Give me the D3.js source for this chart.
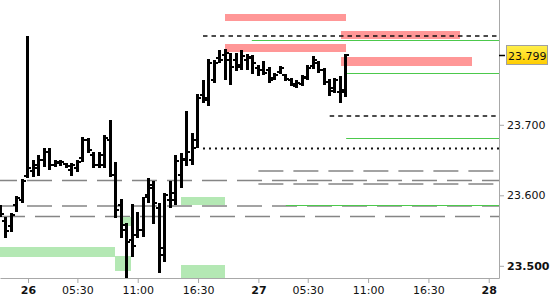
<!DOCTYPE html>
<html>
<head>
<meta charset="utf-8">
<script src="https://cdn.jsdelivr.net/npm/d3@7"></script>
<style>
body { margin: 0; background: #fff; }
svg text { font-family: "DejaVu Sans", sans-serif; font-size: 11px; fill: #111; }
</style>
</head>
<body>
<div id="chart"></div>
<script>
// 30 minute bars, indexed from the left edge
var opens  = [23.582,23.564,23.557,23.586,23.593,23.627,23.635,23.639,23.650,23.661,23.643,23.646,23.644,23.636,23.639,23.653,
              23.678,23.657,23.643,23.643,23.678,23.629,23.586,23.551,23.537,23.544,23.551,23.600,23.615,23.582,23.515,23.593,
              23.593,23.629,23.650,23.650,23.678,23.742,23.735,23.764,23.795,23.799,23.792,23.792,23.785,23.792,23.795,23.781,
              23.778,23.778,23.766,23.775,23.771,23.764,23.755,23.758,23.766,23.783,23.788,23.778,23.761,23.752,23.747,23.747];
var highs  = [23.586,23.569,23.575,23.599,23.623,23.826,23.650,23.657,23.667,23.667,23.650,23.650,23.646,23.646,23.650,23.683,
              23.681,23.661,23.661,23.686,23.707,23.647,23.595,23.561,23.588,23.576,23.598,23.625,23.620,23.589,23.603,23.620,
              23.657,23.660,23.720,23.688,23.744,23.764,23.793,23.792,23.806,23.808,23.802,23.802,23.806,23.800,23.799,23.785,
              23.791,23.782,23.774,23.783,23.772,23.766,23.764,23.771,23.785,23.798,23.791,23.781,23.765,23.766,23.769,23.800];
var lows   = [23.569,23.539,23.548,23.576,23.589,23.625,23.626,23.627,23.640,23.636,23.640,23.642,23.639,23.627,23.633,23.647,
              23.660,23.639,23.639,23.639,23.626,23.568,23.539,23.483,23.513,23.539,23.541,23.589,23.559,23.490,23.505,23.582,
              23.586,23.610,23.642,23.643,23.667,23.731,23.727,23.759,23.788,23.764,23.757,23.776,23.778,23.778,23.772,23.769,
              23.771,23.759,23.764,23.772,23.762,23.755,23.752,23.755,23.764,23.779,23.774,23.757,23.741,23.745,23.731,23.739];
var closes = [23.574,23.549,23.572,23.596,23.620,23.639,23.643,23.650,23.661,23.643,23.647,23.647,23.642,23.643,23.647,23.678,
              23.664,23.643,23.657,23.681,23.629,23.579,23.558,23.534,23.528,23.551,23.598,23.610,23.589,23.525,23.600,23.603,
              23.649,23.652,23.661,23.667,23.738,23.738,23.788,23.788,23.792,23.802,23.782,23.782,23.798,23.796,23.788,23.778,
              23.774,23.764,23.771,23.781,23.765,23.758,23.759,23.768,23.781,23.792,23.778,23.761,23.748,23.764,23.749,23.799];

var xTickIdx    = [5, 14, 25, 36, 47, 56, 67, 78, 89];
var xTickLabels = ["26", "05:30", "11:00", "16:30", "27", "05:30", "11:00", "16:30", "28"];
var dayLabels   = ["26", "27", "28"];
var yTicks      = [23.5, 23.6, 23.7];
var lastPrice   = 23.799;

// horizontal levels: [start bar index, price], they run to the right edge
var grayLevels  = [[-1.57, 23.621], [-1.57, 23.5848], [-0.11, 23.5699], [47, 23.6345], [47, 23.616]];
var greenLevels = [[45.8, 23.8203], [63, 23.7735], [63, 23.6813], [52, 23.5862]];
var dashLevels  = [[36.9, 23.826], [60, 23.7125]];
var dotLevels   = [[36.9, 23.6664]];

// zones: [from index, to index, top price, bottom price]
var redZones   = [[40.91, 62.97, 23.8572, 23.8472], [40.91, 62.97, 23.8146, 23.8033],
                  [62.06, 83.76, 23.8331, 23.8217], [62.06, 85.94, 23.7962, 23.7834]];
var greenZones = [[-0.5, 20.86, 23.5267, 23.5125], [20.86, 23.77, 23.5139, 23.4926],
                  [21.8, 23.77, 23.5692, 23.5565], [32.89, 40.91, 23.5976, 23.5862],
                  [32.89, 40.91, 23.5012, 23.4813]];

var W = 550, H = 300, plotW = 499, plotH = 278;

var svg = d3.select("#chart").append("svg")
  .attr("width", W).attr("height", H);

var x = d3.scaleLinear().domain([-0.11, 90.87]).range([0, plotW]);
var y = d3.scaleLinear().domain([23.4827, 23.877]).range([plotH, 0]);

svg.append("clipPath").attr("id", "plotclip")
  .append("rect").attr("x", 0).attr("y", 0).attr("width", plotW).attr("height", plotH + 1);

var plot = svg.append("g").attr("clip-path", "url(#plotclip)");

// gray long dash levels
plot.selectAll(".gray").data(grayLevels).enter().append("line")
  .attr("x1", function(d) { return x(d[0]); })
  .attr("x2", plotW)
  .attr("y1", function(d) { return y(d[1]); })
  .attr("y2", function(d) { return y(d[1]); })
  .attr("stroke", "#858585").attr("stroke-width", 1.4)
  .attr("stroke-dasharray", "25,10");

// zones
plot.selectAll(".gz").data(greenZones).enter().append("rect")
  .attr("x", function(d) { return x(d[0]); })
  .attr("width", function(d) { return x(d[1]) - x(d[0]); })
  .attr("y", function(d) { return y(d[2]); })
  .attr("height", function(d) { return y(d[3]) - y(d[2]); })
  .attr("fill", "#b4e8b4").attr("shape-rendering", "crispEdges");

plot.selectAll(".rz").data(redZones).enter().append("rect")
  .attr("x", function(d) { return x(d[0]); })
  .attr("width", function(d) { return x(d[1]) - x(d[0]); })
  .attr("y", function(d) { return y(d[2]); })
  .attr("height", function(d) { return y(d[3]) - y(d[2]); })
  .attr("fill", "#ff9797").attr("shape-rendering", "crispEdges");

plot.selectAll(".gl").data(greenLevels).enter().append("line")
  .attr("x1", function(d) { return x(d[0]); })
  .attr("x2", plotW)
  .attr("y1", function(d) { return Math.round(y(d[1])) + 0.5; })
  .attr("y2", function(d) { return Math.round(y(d[1])) + 0.5; })
  .attr("stroke", "#4cc94c").attr("stroke-width", 1.2);

plot.selectAll(".dl").data(dashLevels).enter().append("line")
  .attr("x1", function(d) { return x(d[0]); })
  .attr("x2", plotW)
  .attr("y1", function(d) { return y(d[1]); })
  .attr("y2", function(d) { return y(d[1]); })
  .attr("stroke", "#111").attr("stroke-width", 1.4)
  .attr("stroke-dasharray", "4.5,4");

plot.selectAll(".dot").data(dotLevels).enter().append("line")
  .attr("x1", function(d) { return x(d[0]); })
  .attr("x2", plotW)
  .attr("y1", function(d) { return y(d[1]); })
  .attr("y2", function(d) { return y(d[1]); })
  .attr("stroke", "#111").attr("stroke-width", 2)
  .attr("stroke-dasharray", "2,4");

// OHLC bars
var bars = plot.selectAll(".bar").data(d3.range(opens.length)).enter().append("g")
  .attr("shape-rendering", "crispEdges");
function cx(i) { return Math.round(x(i) - 0.7); }
bars.append("rect")
  .attr("x", function(i) { return cx(i) - 1; })
  .attr("width", 3)
  .attr("y", function(i) { return y(highs[i]); })
  .attr("height", function(i) { return Math.max(2, y(lows[i]) - y(highs[i])); })
  .attr("fill", "#000");
bars.append("rect")
  .attr("x", function(i) { return cx(i) - 3; })
  .attr("width", 2)
  .attr("y", function(i) { return y(opens[i]) - 1; })
  .attr("height", 2)
  .attr("fill", "#000");
bars.append("rect")
  .attr("x", function(i) { return cx(i) + 2; })
  .attr("width", 2)
  .attr("y", function(i) { return y(closes[i]) - 1; })
  .attr("height", 2)
  .attr("fill", "#000");

// axes
var xAxis = svg.append("g")
  .attr("transform", "translate(0," + plotH + ")")
  .call(d3.axisBottom(x).tickValues(xTickIdx)
    .tickFormat(function(d, i) { return xTickLabels[i]; })
    .tickSize(5).tickSizeOuter(0));
xAxis.select(".domain").attr("stroke", "#a8a8a8");
xAxis.selectAll(".tick line").attr("stroke", "#a8a8a8");
xAxis.selectAll("text")
  .attr("fill", "#111")
  .style("font-family", "DejaVu Sans, sans-serif").style("font-size", "11px")
  .style("font-weight", function(d, i) { return dayLabels.indexOf(xTickLabels[i]) >= 0 ? "bold" : "normal"; });

var yAxis = svg.append("g")
  .attr("transform", "translate(" + plotW + ",0)")
  .call(d3.axisRight(y).tickValues(yTicks).tickFormat(d3.format(".3f"))
    .tickSize(5).tickSizeOuter(0));
yAxis.select(".domain").attr("stroke", "#a8a8a8").attr("d", "M0.5,0V" + (plotH + 0.5));
yAxis.selectAll(".tick line").attr("stroke", "#a8a8a8");
yAxis.selectAll("text")
  .attr("fill", "#111")
  .style("font-family", "DejaVu Sans, sans-serif").style("font-size", "11px")
  .style("font-weight", function(d) { return d === 23.5 ? "bold" : "normal"; });

// last price marker
var grad = svg.append("defs").append("linearGradient").attr("id", "yel")
  .attr("x1", 0).attr("y1", 0).attr("x2", 0).attr("y2", 1);
grad.append("stop").attr("offset", "0%").attr("stop-color", "#fff04c");
grad.append("stop").attr("offset", "100%").attr("stop-color", "#ffcc00");

var py = Math.round(y(lastPrice));
svg.append("line")
  .attr("x1", plotW).attr("x2", plotW + 6)
  .attr("y1", py + 0.5).attr("y2", py + 0.5)
  .attr("stroke", "#000").attr("stroke-width", 1.5);
svg.append("rect")
  .attr("x", plotW + 7.5).attr("y", py - 9.5)
  .attr("width", 41).attr("height", 19)
  .attr("fill", "url(#yel)").attr("stroke", "#a0a0a0");
svg.append("text")
  .attr("x", plotW + 9).attr("y", py + 4.5)
  .text(d3.format(".3f")(lastPrice));
</script>
</body>
</html>
